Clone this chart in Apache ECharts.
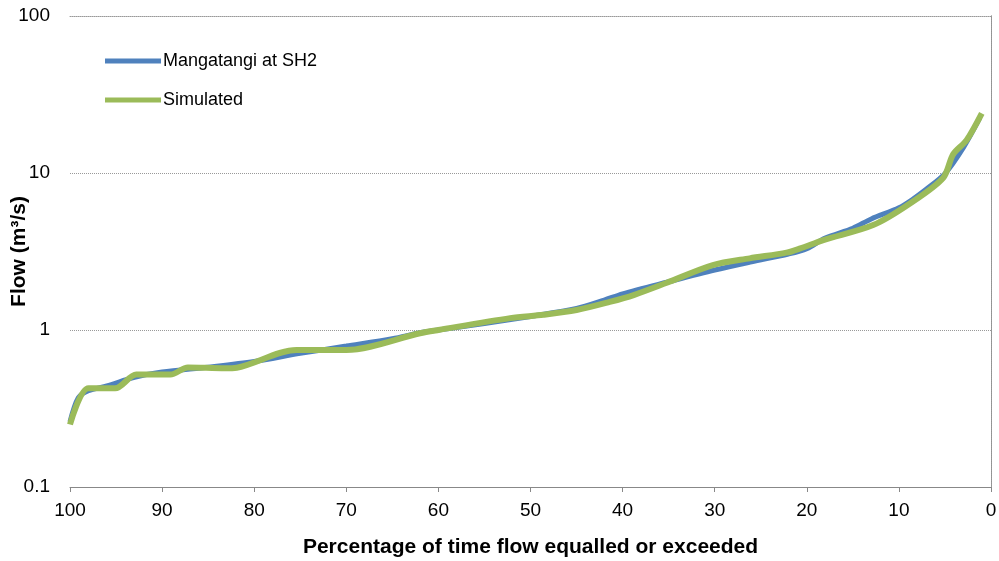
<!DOCTYPE html>
<html>
<head>
<meta charset="utf-8">
<script src="https://cdn.jsdelivr.net/npm/echarts@6/dist/echarts.min.js"></script>
<style>html,body{margin:0;padding:0;background:#fff}#c{width:999px;height:561px}</style>
</head>
<body>
<div id="c"></div>
<script>
const seriesNames = ['Mangatangi at SH2', 'Simulated'];
const xTicks = [0, 10, 20, 30, 40, 50, 60, 70, 80, 90, 100];
const yTicks = [0.1, 1, 10, 100];

const observedPct  = [100, 99.1, 98, 96, 93, 90, 85, 80, 75, 70, 65, 62, 60, 55, 50, 45, 42, 40, 35, 30, 26, 22, 20, 18, 15, 13, 10, 8.5, 7, 5, 3, 1.2];
const observedFlow = [0.26, 0.37, 0.41, 0.44, 0.50, 0.54, 0.58, 0.63, 0.71, 0.79, 0.88, 0.96, 1.0, 1.1, 1.22, 1.37, 1.55, 1.70, 2.03, 2.41, 2.72, 3.05, 3.3, 3.85, 4.45, 5.1, 6.0, 6.8, 7.9, 9.9, 14.5, 22.5];

const simulatedPct  = [100, 98, 95.1, 92.8, 89.1, 87.2, 83.2, 81.9, 75.4, 70, 62, 60, 52.2, 48.6, 45, 41.4, 38.8, 35.2, 30.2, 26.2, 22.2, 20.7, 18.2, 12.8, 8.8, 5.2, 4.1, 2.65, 1.0];
const simulatedFlow = [0.25, 0.425, 0.425, 0.52, 0.52, 0.578, 0.57, 0.575, 0.746, 0.746, 0.953, 1.0, 1.19, 1.25, 1.34, 1.51, 1.67, 2.0, 2.59, 2.86, 3.11, 3.31, 3.74, 4.66, 6.4, 9.3, 13.2, 16.2, 24.0];

const toPairs = (xs, ys) => xs.map((x, i) => [x, ys[i]]);

const chart = echarts.init(document.getElementById('c'), null, {renderer: 'canvas'});
const font = '"Liberation Sans", Arial, sans-serif';
chart.setOption({
  animation: false,
  backgroundColor: '#fff',
  textStyle: {fontFamily: font},
  grid: {left: 70, right: 8, top: 16, bottom: 74, containLabel: false, outerBoundsMode: 'none'},
  legend: {
    orient: 'vertical', left: 100, top: 47, itemGap: 21,
    itemWidth: 56, itemHeight: 5, icon: 'rect',
    textStyle: {fontSize: 18, color: '#000', fontFamily: font, padding: [0, 0, 0, -3]},
    data: seriesNames
  },
  xAxis: [{
    type: 'value', inverse: true, min: 0, max: 100, interval: 10,
    name: 'Percentage of time flow equalled or exceeded',
    nameLocation: 'middle', nameGap: 50, nameMoveOverlap: false,
    nameTextStyle: {fontSize: 21, fontWeight: 'bold', color: '#000', fontFamily: font},
    axisLine: {lineStyle: {color: '#888', width: 1}},
    axisTick: {show: true, length: 5, lineStyle: {color: '#888'}},
    axisLabel: {fontSize: 19, color: '#000', margin: 14, fontFamily: font},
    splitLine: {show: false}
  }, {
    type: 'value', inverse: true, min: 0, max: 100, position: 'top',
    axisLine: {show: true, lineStyle: {color: '#999', type: 'dotted'}},
    axisTick: {show: false}, axisLabel: {show: false}, splitLine: {show: false}
  }],
  yAxis: [{
    type: 'log', logBase: 10, min: 0.1, max: 100,
    name: 'Flow (m³/s)', nameLocation: 'middle', nameGap: 40, nameMoveOverlap: false,
    nameTextStyle: {fontSize: 21, fontWeight: 'bold', color: '#000', fontFamily: font},
    axisLine: {show: true, lineStyle: {color: '#888', width: 1}},
    axisTick: {show: false},
    axisLabel: {fontSize: 19, color: '#000', margin: 20, fontFamily: font,
      formatter: v => String(Math.round(v * 10) / 10)},
    splitLine: {show: true, lineStyle: {color: '#999', type: 'dotted', width: 1}}
  }, {
    type: 'log', logBase: 10, min: 0.1, max: 100, position: 'right',
    axisLine: {show: true, lineStyle: {color: '#999', type: 'dotted'}},
    axisTick: {show: false}, axisLabel: {show: false}, splitLine: {show: false}
  }],
  series: [{
    name: seriesNames[0], type: 'line', smooth: 0.3, showSymbol: false,
    data: toPairs(observedPct, observedFlow),
    color: '#4F81BD', lineStyle: {width: 5, color: '#4F81BD'}
  }, {
    name: seriesNames[1], type: 'line', smooth: 0.3, showSymbol: false,
    data: toPairs(simulatedPct, simulatedFlow),
    color: '#9BBB59', lineStyle: {width: 6, color: '#9BBB59'}
  }]
});
</script>
</body>
</html>
